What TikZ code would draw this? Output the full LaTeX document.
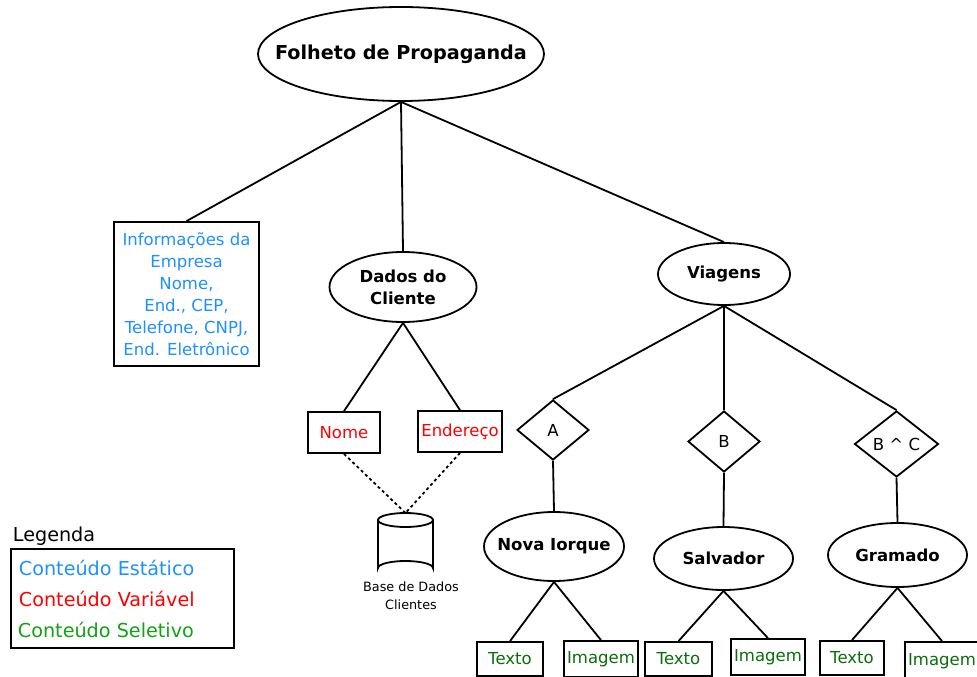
\documentclass[tikz,border=0pt]{standalone}
\usepackage{fontspec}
\setmainfont{DejaVu Sans}
\usetikzlibrary{shapes.geometric}
\definecolor{estatico}{RGB}{30,144,255}
\definecolor{variavel}{RGB}{255,0,0}
\definecolor{seletivo}{RGB}{20,160,20}
\definecolor{folha}{RGB}{10,110,10}
\tikzset{
  every picture/.style={line width=1.35pt},
  topic/.style={draw, ellipse, inner sep=-120pt, font=\bfseries\fontsize{12.4}{16.5}\selectfont},
  infobox/.style={draw, rectangle, inner sep=0pt, font=\fontsize{12.4}{16.5}\selectfont},
  choice/.style={draw, diamond, inner sep=0pt, font=\fontsize{12.4}{14}\selectfont},
  leafbox/.style={draw, rectangle, inner sep=0pt, text=folha, font=\fontsize{12.4}{14}\selectfont},
  legtext/.style={anchor=west, inner sep=0pt, font=\fontsize{14.4}{16}\selectfont},
  link/.style={line width=1.35pt},
  dbline/.style={dash pattern=on 2.2pt off 2.2pt, line width=1.35pt},
}
\begin{document}
\begin{tikzpicture}[x=0.75pt, y=-0.75pt]
\useasboundingbox (0,0) rectangle (977,677);
\begin{scope}
\clip (0,0) rectangle (977,677);

% root
\node[topic, minimum width=286*0.75pt, minimum height=94*0.75pt, font=\bfseries\fontsize{14.4}{16}\selectfont] (root) at (401,54) {Folheto de Propaganda};

% company information
\node[infobox, text=estatico, minimum width=145*0.75pt, minimum height=144*0.75pt, align=center] (info) at (186.5,294) {Informações da\\Empresa\\Nome,\\End., CEP,\\Telefone, CNPJ,\\End. Eletrônico};

% customer data
\node[topic, minimum width=147*0.75pt, minimum height=70*0.75pt, align=center] (dados) at (403,287) {Dados do\\Cliente};
\node[infobox, text=variavel, minimum width=72*0.75pt, minimum height=41*0.75pt] (nome) at (344,432.5) {Nome};
\node[infobox, text=variavel, minimum width=84*0.75pt, minimum height=41*0.75pt] (ender) at (460,431.5) {Endereço};

% database cylinder
\coordinate (dbtop) at (405.5,513);
\draw[fill=white] (378,520) -- (378,568) arc[start angle=180, end angle=360, x radius=27.5, y radius=7] -- (433,520);
\draw[fill=white] (405.5,520) ellipse[x radius=27.5, y radius=7];
\node[font=\fontsize{9.6}{13.5}\selectfont, align=center] (dblabel) at (411,596) {Base de Dados\\Clientes};

% trips
\node[topic, minimum width=132*0.75pt, minimum height=62*0.75pt] (viagens) at (724,274) {Viagens};
\node[choice, minimum width=72*0.75pt, minimum height=60*0.75pt] (ca) at (553,430) {A};
\node[choice, minimum width=72*0.75pt, minimum height=61*0.75pt] (cb) at (724,441.5) {B};
\node[choice, minimum width=84*0.75pt, minimum height=66*0.75pt] (cbc) at (896.5,444) {B \^{} C};

\node[topic, minimum width=140*0.75pt, minimum height=69*0.75pt] (ny) at (554,546.5) {Nova Iorque};
\node[topic, minimum width=139*0.75pt, minimum height=63*0.75pt] (ssa) at (723.5,558.5) {Salvador};
\node[topic, minimum width=139*0.75pt, minimum height=64*0.75pt] (gram) at (897.5,555) {Gramado};

\node[leafbox, minimum width=66*0.75pt, minimum height=34*0.75pt] (nyt) at (510,659) {Texto};
\node[leafbox, minimum width=74*0.75pt, minimum height=36*0.75pt] (nyi) at (601,659) {Imagem};
\node[leafbox, minimum width=67*0.75pt, minimum height=34*0.75pt] (ssat) at (678.5,659) {Texto};
\node[leafbox, minimum width=74*0.75pt, minimum height=36*0.75pt] (ssai) at (768,657) {Imagem};
\node[leafbox, minimum width=64*0.75pt, minimum height=34*0.75pt] (gramt) at (852,658) {Texto};
\node[leafbox, minimum width=74*0.75pt, minimum height=38*0.75pt] (grami) at (942,661) {Imagem};

% connectors
\draw[link] (root.south) -- (info.north);
\draw[link] (root.south) -- (dados.north);
\draw[link] (root.south) -- (viagens.north);
\draw[link] (dados.south) -- (nome.north);
\draw[link] (dados.south) -- (ender.north);
\draw[dbline] (nome.south) -- (dbtop);
\draw[dbline] (ender.south) -- (dbtop);
\draw[link] (viagens.south) -- (ca.north);
\draw[link] (viagens.south) -- (cb.north);
\draw[link] (viagens.south) -- (cbc.north);
\draw[link] (ca.south) -- (ny.north);
\draw[link] (cb.south) -- (ssa.north);
\draw[link] (cbc.south) -- (gram.north);
\draw[link] (ny.south) -- (nyt.north);
\draw[link] (ny.south) -- (nyi.north);
\draw[link] (ssa.south) -- (ssat.north);
\draw[link] (ssa.south) -- (ssai.north);
\draw[link] (gram.south) -- (gramt.north);
\draw[link] (gram.south) -- (grami.north);

% legend
\node[legtext] (legtitle) at (12,536) {Legenda};
\node[draw, rectangle, minimum width=223*0.75pt, minimum height=99*0.75pt] (legbox) at (122.5,598.5) {};
\node[legtext, text=estatico] (leg1) at (18,568) {Conteúdo Estático};
\node[legtext, text=variavel] (leg2) at (18,599) {Conteúdo Variável};
\node[legtext, text=seletivo] (leg3) at (17,630) {Conteúdo Seletivo};
\end{scope}
\end{tikzpicture}
\end{document}
